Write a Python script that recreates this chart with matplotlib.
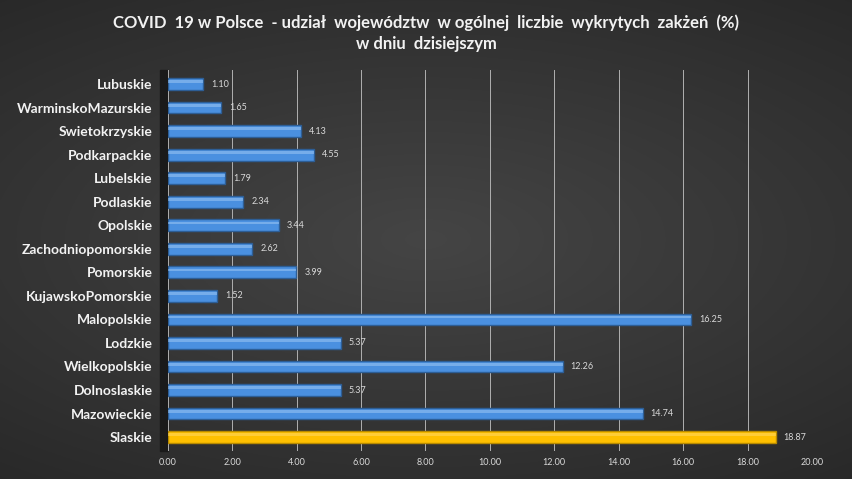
import numpy as np
import matplotlib.pyplot as plt

plt.rcParams['font.family'] = ['Lato', 'DejaVu Sans']

regions = ['Lubuskie', 'WarminskoMazurskie', 'Swietokrzyskie', 'Podkarpackie',
           'Lubelskie', 'Podlaskie', 'Opolskie', 'Zachodniopomorskie',
           'Pomorskie', 'KujawskoPomorskie', 'Malopolskie', 'Lodzkie',
           'Wielkopolskie', 'Dolnoslaskie', 'Mazowieckie', 'Slaskie']
shares = [1.10, 1.65, 4.13, 4.55, 1.79, 2.34, 3.44, 2.62,
          3.99, 1.52, 16.25, 5.37, 12.26, 5.37, 14.74, 18.87]
xticks = [0, 2, 4, 6, 8, 10, 12, 14, 16, 18, 20]

fig = plt.figure(figsize=(8.52, 4.79), dpi=100)

# tło z gradientem (jaśniej w środku)
bg = fig.add_axes([0, 0, 1, 1])
yy, xx = np.mgrid[-1:1:300j, -1:1:500j]
r = np.sqrt((xx * 0.8) ** 2 + (yy * 1.0) ** 2)
grad = 0.27 - 0.12 * np.clip(r, 0, 1.4) / 1.4
bg.imshow(np.dstack([grad, grad, grad]), extent=[0, 1, 0, 1], aspect='auto')
bg.axis('off')

ax = fig.add_axes([0.197, 0.058, 0.756, 0.796])
ax.patch.set_alpha(0)

y = np.arange(len(regions))[::-1]
colors = ['#4a90e0'] * (len(regions) - 1) + ['#ffc000']
edges = ['#2d5e96'] * (len(regions) - 1) + ['#b78a00']
tops = ['#9cc6f4'] * (len(regions) - 1) + ['#ffd966']

ax.barh(y, shares, height=0.5, color=colors, edgecolor=edges, linewidth=1, zorder=3)
ax.barh(y + 0.1, shares, height=0.12, color=tops, linewidth=0, alpha=0.55, zorder=4)

for yi, v in zip(y, shares):
    ax.text(v + 0.25, yi, f'{v:.2f}', va='center', ha='left', fontsize=6.5,
            color='#d9d9d9', zorder=5)

ax.set_xlim(0, 20)
ax.set_ylim(-0.6, len(regions) - 0.4)
ax.set_xticks(xticks)
ax.set_xticklabels([f'{t:.2f}' for t in xticks], fontsize=6.5, color='#d9d9d9')
ax.set_yticks(y)
ax.set_yticklabels(regions, fontsize=10, fontweight='bold', color='#f2f2f2')
ax.tick_params(length=0)
ax.tick_params(axis='x', pad=5)
ax.tick_params(axis='y', pad=11)
ax.grid(axis='x', color='#b0b0b0', linewidth=0.7, zorder=0)
for s in ax.spines.values():
    s.set_visible(False)

# ciemna lewa ściana
ax.axvspan(-0.25, 0, color='#1a1a1a', clip_on=False, zorder=1)

fig.text(0.5, 0.953, 'COVID  19 w Polsce  - udział  województw  w ogólnej  liczbie  wykrytych  zakżeń  (%)',
         ha='center', va='center', fontsize=12, fontweight='bold', color='#f2f2f2')
fig.text(0.5, 0.909, 'w dniu  dzisiejszym', ha='center', va='center',
         fontsize=12, fontweight='bold', color='#f2f2f2')

fig.savefig('out.png', dpi=100)
